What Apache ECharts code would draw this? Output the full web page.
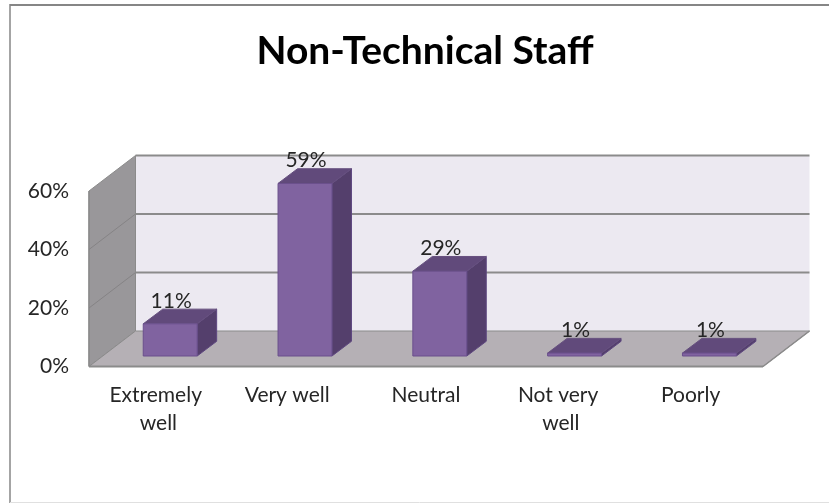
<!DOCTYPE html>
<html><head><meta charset="utf-8">
<style>html,body{margin:0;padding:0;background:#fff}#c{width:829px;height:503px}</style>
<script src="https://cdn.jsdelivr.net/npm/echarts@6/dist/echarts.min.js"></script>
</head><body><div id="c"></div>
<script>
const titleText = 'Non-Technical Staff';
const categories = ['Extremely well', 'Very well', 'Neutral', 'Not very well', 'Poorly'];
const values = [11, 59, 29, 1, 1];
const yTicks = [0, 20, 40, 60];

const DX = 46.5, DY = -35.5;            // depth of the chart box
const BAR_DX0 = 13.8, BAR_DY0 = -10.5;  // front face of bars within the box
const BAR_DX = 19.5, BAR_DY = -14.7;    // depth of a bar
const BAR_W = 0.4;                      // share of a category band
const EDGE = '#8b8b8b';
const FONT = 'Lato';
const INK = '#262626';
const LABEL_PAD = [[0, 0, 0, 4], [0, 8, 0, 0], [0, 0, 0, 0], [0, 0, 0, 0], [0, 10, 0, 0]];

function poly(points, fill, stroke, lw) {
  return { type: 'polygon', shape: { points }, style: { fill, stroke: stroke || 'none', lineWidth: lw || 0 }, silent: true };
}
function line(x1, y1, x2, y2, stroke, lw) {
  return { type: 'polyline', shape: { points: [[x1, y1], [x2, y2]] }, style: { stroke, lineWidth: lw, fill: 'none' }, silent: true };
}

function renderBox(params, api) {
  const g = params.coordSys;
  const y = api.coord([0, api.value(1)])[1];
  const L = g.x, R = g.x + g.width, T = g.y, B = g.y + g.height;
  const kids = [];
  if (params.dataIndex === 0) {
    kids.push(poly([[L + DX, T + DY], [R + DX, T + DY], [R + DX, B + DY], [L + DX, B + DY]], '#ECE9F1'));
    kids.push(poly([[L, T], [L + DX, T + DY], [L + DX, B + DY], [L, B]], '#99979A', EDGE, 1));
    kids.push(poly([[L, B], [L + DX, B + DY], [R + DX, B + DY], [R, B]], '#B5B0B5', EDGE, 1));
    kids.push(line(L + DX, T + DY, R + DX, T + DY, EDGE, 2));
    kids.push(line(L, B, R, B, EDGE, 2));
    kids.push(line(L, T, L, B, EDGE, 1.5));
    kids.push(line(R, B, R + DX, B + DY, EDGE, 1.5));
  } else if (api.value(1) < 60) {
    kids.push(line(L, y, L + DX, y + DY, '#858385', 1));
    kids.push(line(L + DX, y + DY, R + DX, y + DY, EDGE, 2));
  }
  return { type: 'group', children: kids };
}

function renderBar(params, api) {
  const i = api.value(0), v = api.value(1);
  const c = api.coord([i, v]), c0 = api.coord([i, 0]);
  const w = api.size([1, 0])[0] * BAR_W;
  const x0 = c[0] - w / 2 + BAR_DX0, x1 = x0 + w;
  const top = c[1] + BAR_DY0, bot = c0[1] + BAR_DY0;
  const stroke = '#6A4F8C';
  return { type: 'group', children: [
    poly([[x1, bot], [x1 + BAR_DX, bot + BAR_DY], [x1 + BAR_DX, top + BAR_DY], [x1, top]], '#543F6C', '#5E4780', 1),
    poly([[x0, top], [x0 + BAR_DX, top + BAR_DY], [x1 + BAR_DX, top + BAR_DY], [x1, top]], '#614A7B', '#66507F', 1),
    poly([[x0, top], [x1, top], [x1, bot], [x0, bot]], '#8063A0', stroke, 1),
    { type: 'text', silent: true, style: {
        text: v + '%', x: (x0 + x1) / 2 + 1, y: top - 23, align: 'center', verticalAlign: 'middle',
        font: '21px ' + FONT, fill: INK } }
  ] };
}

const chart = echarts.init(document.getElementById('c'), null, { renderer: 'canvas' });
chart.setOption({
  animation: false,
  backgroundColor: '#fff',
  title: { text: titleText, left: 420, top: 27, textAlign: 'center',
    textStyle: { fontFamily: FONT, fontWeight: 'bold', fontSize: 39, color: '#000' } },
  grid: { left: 89, right: 66, top: 191, bottom: 136.5 },
  xAxis: { type: 'category',
    data: categories.map((value, i) => ({ value, textStyle: { padding: LABEL_PAD[i] } })),
    axisLine: { show: false }, axisTick: { show: false }, splitLine: { show: false },
    axisLabel: { interval: 0, margin: 15, width: 112, overflow: 'break', lineHeight: 28,
      fontFamily: FONT, fontSize: 21, color: INK } },
  yAxis: { type: 'value', min: 0, max: 60, interval: 20,
    axisLine: { show: false }, axisTick: { show: false }, splitLine: { show: false },
    axisLabel: { formatter: '{value}%', margin: 20, padding: [7, 0, 0, 0], fontFamily: FONT, fontSize: 21, color: INK } },
  graphic: [
    { type: 'line', silent: true, shape: { x1: 10, y1: 5, x2: 829, y2: 5 }, style: { stroke: '#868686', lineWidth: 2 } },
    { type: 'line', silent: true, shape: { x1: 10, y1: 4, x2: 10, y2: 503 }, style: { stroke: '#868686', lineWidth: 1.5 } },
    { type: 'line', silent: true, shape: { x1: 10, y1: 502.5, x2: 829, y2: 502.5 }, style: { stroke: '#e0e0e0', lineWidth: 1 } }
  ],
  series: [
    { type: 'custom', name: 'box', renderItem: renderBox, silent: true, z: 1,
      data: yTicks.map(t => [0, t]), encode: { x: 0, y: 1 } },
    { type: 'custom', name: 'Non-Technical Staff', renderItem: renderBar, silent: true, z: 2,
      data: values.map((v, i) => [i, v]), encode: { x: 0, y: 1 } }
  ]
});
</script></body></html>
